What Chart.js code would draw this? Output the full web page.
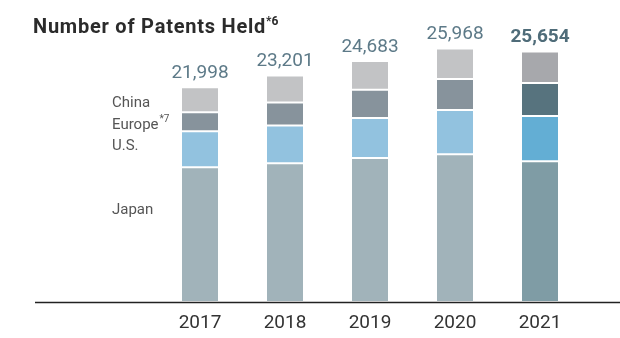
<!DOCTYPE html>
<html>
<head>
<meta charset="utf-8">
<script src="https://cdn.jsdelivr.net/npm/chart.js@4.4.1/dist/chart.umd.min.js"></script>
<style>
  html, body { margin: 0; padding: 0; background: #fff; }
  #wrap { width: 620px; height: 338px; position: relative; }
</style>
</head>
<body>
<div id="wrap"><canvas id="patents"></canvas></div>
<script>
  "use strict";

  // Patents held by region, stacked per fiscal year
  const years = ["2017", "2018", "2019", "2020", "2021"];
  const totals = [21998, 23201, 24683, 25968, 25654];
  const japan = [13790, 14200, 14750, 15140, 14420];
  const us = [3700, 3880, 4100, 4510, 4620];
  const europe = [1950, 2340, 2870, 3180, 3380];
  const china = [2558, 2781, 2963, 3138, 3234];

  const regionLabels = ["China", "Europe", "U.S.", "Japan"];

  // older years muted, latest year highlighted
  const shade = (muted, latest) => years.map((_, i) => (i === years.length - 1 ? latest : muted));

  const FONT = "Roboto, 'Open Sans', sans-serif";

  const seg = (label, data, muted, latest) => ({
    label,
    data,
    backgroundColor: shade(muted, latest),
    borderColor: "#ffffff",
    borderWidth: { top: 1, bottom: 1, left: 0, right: 0 },
    borderSkipped: false,
    barPercentage: 0.424,
    categoryPercentage: 1
  });

  const decorations = {
    id: "decorations",
    afterDatasetsDraw(chart) {
      const { ctx } = chart;
      const x = chart.scales.x;
      const y = chart.scales.y;

      ctx.save();

      // baseline
      ctx.strokeStyle = "#222";
      ctx.lineWidth = 1.5;
      ctx.beginPath();
      ctx.moveTo(35, y.getPixelForValue(0) + 0.5);
      ctx.lineTo(620, y.getPixelForValue(0) + 0.5);
      ctx.stroke();

      // totals above each stack
      ctx.textAlign = "center";
      ctx.textBaseline = "alphabetic";
      totals.forEach((t, i) => {
        const last = i === totals.length - 1;
        ctx.font = (last ? "bold " : "") + "19px " + FONT;
        ctx.fillStyle = last ? "#4f6c79" : "#5d7a88";
        ctx.fillText(t.toLocaleString("en-US"), x.getPixelForValue(i), y.getPixelForValue(t) - 9);
      });

      // title, spaced out to the wider heading face
      ctx.textAlign = "left";
      ctx.fillStyle = "#2b2b2b";
      ctx.font = "bold 20px " + FONT;
      const title = "Number of Patents Held";
      const raw = ctx.measureText(title).width;
      ctx.letterSpacing = Math.max(0, (233 - raw) / title.length).toFixed(2) + "px";
      ctx.fillText(title, 33, 33);
      const tw = ctx.measureText(title).width;
      ctx.letterSpacing = "0px";
      ctx.font = "bold 12px " + FONT;
      ctx.fillText("*6", 33 + tw, 25);

      // region legend at left
      ctx.fillStyle = "#555";
      const ys = [107, 129, 150, 214];
      regionLabels.forEach((r, i) => {
        ctx.font = "15px " + FONT;
        ctx.fillText(r, 112, ys[i]);
        if (r === "Europe") {
          const w = ctx.measureText(r).width;
          ctx.font = "10px " + FONT;
          ctx.fillText("*7", 112 + w + 1, ys[i] - 7);
        }
      });

      ctx.restore();
    }
  };

  new Chart(document.getElementById("patents"), {
    type: "bar",
    data: {
      labels: years,
      datasets: [
        seg("Japan", japan, "#a1b3ba", "#7f9ca5"),
        seg("U.S.", us, "#92c2df", "#63aed4"),
        seg("Europe", europe, "#87939c", "#57737e"),
        seg("China", china, "#c2c3c5", "#a7a8ac")
      ]
    },
    options: {
      responsive: true,
      maintainAspectRatio: false,
      animation: false,
      layout: { padding: { left: 157.5, right: 37.5, top: 9, bottom: 0 } },
      plugins: {
        legend: { display: false },
        tooltip: { enabled: false }
      },
      scales: {
        x: {
          stacked: true,
          grid: { display: false, drawTicks: false },
          border: { display: false },
          ticks: {
            color: "#333",
            padding: 10,
            font: { family: FONT, size: 19 }
          },
          afterFit: (s) => { s.height = 36; }
        },
        y: {
          stacked: true,
          display: false,
          min: 0,
          max: 30000
        }
      }
    },
    plugins: [decorations]
  });
</script>
</body>
</html>
